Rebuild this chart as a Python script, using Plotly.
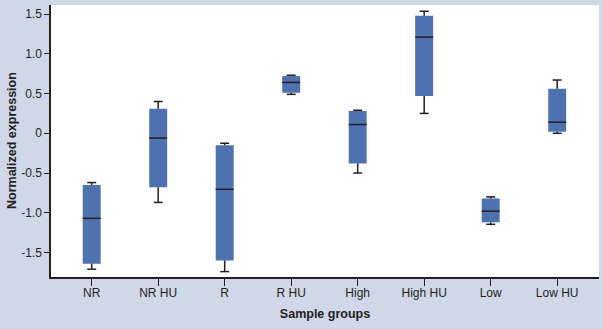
import plotly.graph_objects as go

# Sample groups and box-plot statistics (normalized expression)
groups = ["NR", "NR HU", "R", "R HU", "High", "High HU", "Low", "Low HU"]
whisker_low = [-1.71, -0.87, -1.74, 0.49, -0.50, 0.25, -1.145, 0.00]
q1 = [-1.64, -0.68, -1.60, 0.51, -0.38, 0.47, -1.12, 0.02]
median = [-1.07, -0.06, -0.705, 0.64, 0.11, 1.21, -0.98, 0.14]
q3 = [-0.65, 0.31, -0.15, 0.72, 0.28, 1.48, -0.82, 0.56]
whisker_high = [-0.62, 0.40, -0.125, 0.73, 0.29, 1.535, -0.80, 0.67]

ytick_vals = [-1.5, -1.0, -0.5, 0, 0.5, 1.0, 1.5]
ytick_text = ["-1.5", "-1.0", "-0.5", "0", "0.5", "1.0", "1.5"]

BOX_W = 0.27
CAP_W = 0.135
BLUE = "#4E71AF"
INK = "#231F20"

xs = list(range(len(groups)))

fig = go.Figure()

# Interquartile boxes
fig.add_trace(go.Bar(
    x=xs, y=[b - a for a, b in zip(q1, q3)], base=q1, width=BOX_W,
    marker=dict(color=BLUE, line=dict(width=0)), hoverinfo="skip",
))

# Whiskers, caps and median lines as segments
wx, wy = [], []
for i in xs:
    wx += [i, i, None, i, i, None]
    wy += [q3[i], whisker_high[i], None, q1[i], whisker_low[i], None]
    for v in (whisker_high[i], whisker_low[i]):
        wx += [i - CAP_W / 2, i + CAP_W / 2, None]
        wy += [v, v, None]
fig.add_trace(go.Scatter(x=wx, y=wy, mode="lines",
                         line=dict(color=INK, width=1.5), hoverinfo="skip"))

mx, my = [], []
for i in xs:
    mx += [i - BOX_W / 2, i + BOX_W / 2, None]
    my += [median[i], median[i], None]
fig.add_trace(go.Scatter(x=mx, y=my, mode="lines",
                         line=dict(color=INK, width=1.5), hoverinfo="skip"))

font_family = "Liberation Sans, Arial, sans-serif"

fig.update_layout(
    width=603, height=329,
    margin=dict(l=51, r=4, t=5, b=52),
    paper_bgcolor="#D0D7E9",
    plot_bgcolor="white",
    showlegend=False,
    font=dict(family=font_family, size=12, color=INK),
    xaxis=dict(
        range=[-0.612, 7.629], tickvals=xs, ticktext=groups,
        showline=True, linecolor=INK, linewidth=1.5,
        ticks="outside", ticklen=7, tickwidth=1.3, tickcolor=INK,
        ticklabelstandoff=-3,
        showgrid=False, zeroline=False,
        title=dict(text="<b>Sample groups</b>", font=dict(size=12.5), standoff=10),
    ),
    yaxis=dict(
        range=[-1.808, 1.614], tickvals=ytick_vals, ticktext=ytick_text,
        showline=True, linecolor=INK, linewidth=1.5,
        ticks="outside", ticklen=5, tickwidth=1.3, tickcolor=INK,
        showgrid=False, zeroline=False,
    ),
    annotations=[dict(
        text="<b>Normalized expression</b>", textangle=-90,
        xref="paper", yref="paper", x=0, y=0.5,
        xanchor="center", yanchor="middle", xshift=-39, showarrow=False,
        font=dict(size=12.5, color=INK),
    )],
)

fig.write_html("out.html")
